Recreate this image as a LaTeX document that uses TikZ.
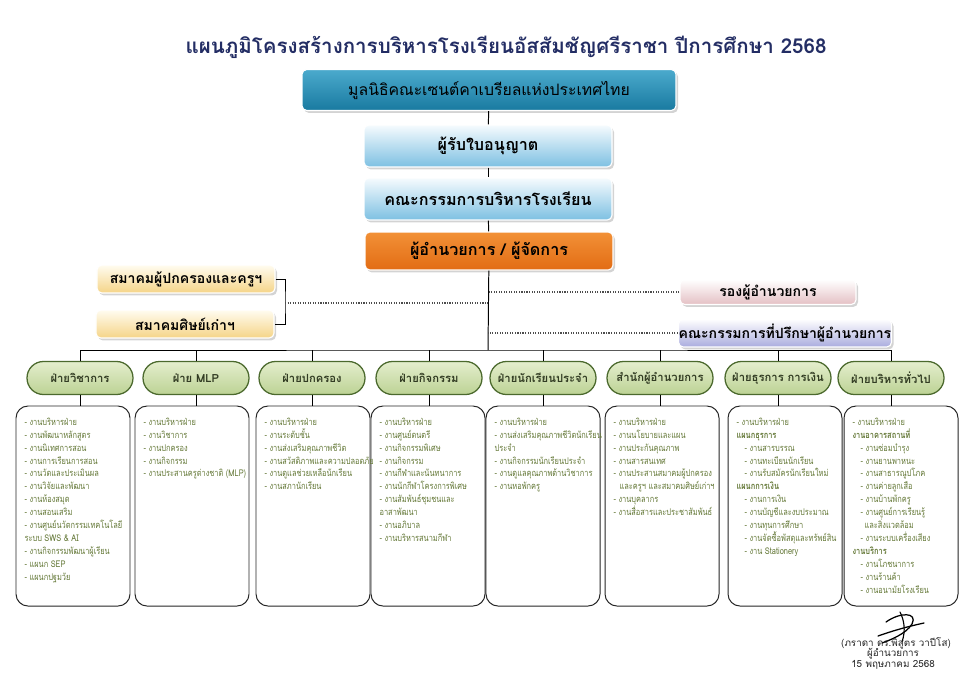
\documentclass[tikz,border=0pt]{standalone}
\usepackage{fontspec}
\setmainfont{Loma}[Script=Thai]
\newfontfamily\narrowthai{Loma}[Script=Thai, FakeStretch=0.8]
\usepackage{tikz}
\usetikzlibrary{positioning,shadows}

\definecolor{titleblue}{RGB}{35,45,100}
\definecolor{tealtop}{RGB}{75,170,205}
\definecolor{tealbot}{RGB}{25,122,160}
\definecolor{skytop}{RGB}{246,251,254}
\definecolor{skybot}{RGB}{125,192,226}
\definecolor{orangetop}{RGB}{242,145,55}
\definecolor{orangebot}{RGB}{226,108,20}
\definecolor{creamtop}{RGB}{255,252,240}
\definecolor{creambot}{RGB}{245,212,135}
\definecolor{pinkbot}{RGB}{228,192,196}
\definecolor{lilacbot}{RGB}{170,172,222}
\definecolor{pilltop}{RGB}{228,238,205}
\definecolor{pillbot}{RGB}{188,210,148}
\definecolor{pilledge}{RGB}{75,105,45}
\definecolor{pilltext}{RGB}{50,60,35}
\definecolor{listgreen}{RGB}{100,120,55}

\tikzset{
  topbox/.style={rectangle, rounded corners=1.2mm, draw=white, line width=0.8pt,
    drop shadow={shadow xshift=0.5mm, shadow yshift=-0.6mm, opacity=0.35},
    inner sep=0pt, font=\bfseries\fontsize{11.5}{13}\selectfont},
  sidebox/.style={topbox, font=\bfseries\fontsize{10}{12}\selectfont},
  pill/.style={rectangle, rounded corners=4.1mm, draw=pilledge, line width=0.9pt,
    top color=pilltop, bottom color=pillbot, minimum width=26.5mm,
    minimum height=8.25mm, inner sep=0pt, text=pilltext,
    font=\bfseries\fontsize{8}{10}\selectfont},
  dutybox/.style={rectangle, rounded corners=3mm, draw=black!85, line width=0.7pt,
    fill=white, minimum width=28.5mm, minimum height=50mm},
  dutylist/.style={align=left, inner sep=0pt, anchor=north west, text=listgreen,
    font=\narrowthai\fontsize{6.6}{9.2}\selectfont},
  dotline/.style={densely dotted, line width=0.8pt, draw=black!70},
  sigtext/.style={inner sep=0pt, text=black!85, font=\fontsize{7}{8}\selectfont}
}

\begin{document}
\begin{tikzpicture}[x=0.25mm, y=-0.25mm]
\useasboundingbox (0,0) rectangle (980,694);

\node[text=titleblue, font=\bfseries\fontsize{14.6}{18}\selectfont] (title) at (506,47)
  {แผนภูมิโครงสร้างการบริหารโรงเรียนอัสสัมชัญศรีราชา ปีการศึกษา 2568};

% top of the chart
\node[topbox, top color=tealtop, bottom color=tealbot, minimum width=93.5mm,
  minimum height=10.25mm, font=\fontsize{11.2}{13}\selectfont] (found) at (489,90)
  {มูลนิธิคณะเซนต์คาเบรียลแห่งประเทศไทย};
\node[topbox, top color=skytop, bottom color=skybot, minimum width=62mm,
  minimum height=10.5mm] (lic) at (488,146) {ผู้รับใบอนุญาต};
\node[topbox, top color=skytop, bottom color=skybot, minimum width=62mm,
  minimum height=10.5mm] (board) at (488,199) {คณะกรรมการบริหารโรงเรียน};
\node[topbox, top color=orangetop, bottom color=orangebot, minimum width=62mm,
  minimum height=9.5mm] (dir) at (489,251) {ผู้อำนวยการ / ผู้จัดการ};

\begin{scope}[every node/.style={sidebox, minimum height=7mm}]
  \node[top color=creamtop, bottom color=creambot, minimum width=44.5mm] (par) at (186,279) {สมาคมผู้ปกครองและครูฯ};
  \node[top color=creamtop, bottom color=creambot, minimum width=44.5mm] (alu) at (185,324) {สมาคมศิษย์เก่าฯ};
  \node[top color=white, bottom color=pinkbot, minimum width=44mm, minimum height=6.25mm] (dep) at (768,292) {รองผู้อำนวยการ};
  \node[top color=white, bottom color=lilacbot, minimum width=53.25mm] (adv) at (785,333) {คณะกรรมการที่ปรึกษาผู้อำนวยการ};
\end{scope}

% departments
\node[pill] (h1) at (80,378) {ฝ่ายวิชาการ};
\node[pill] (h2) at (196,378) {ฝ่าย MLP};
\node[pill] (h3) at (312,378) {ฝ่ายปกครอง};
\node[pill] (h4) at (429,378) {ฝ่ายกิจกรรม};
\node[pill] (h5) at (543,378) {ฝ่ายนักเรียนประจำ};
\node[pill] (h6) at (660,378) {สำนักผู้อำนวยการ};
\node[pill] (h7) at (778,378) {ฝ่ายธุรการ การเงิน};
\node[pill] (h8) at (891,378) {ฝ่ายบริหารทั่วไป};

\node[dutybox] (d1) at (73,506) {};
\node[dutybox] (d2) at (192,506) {};
\node[dutybox] (d3) at (313,506) {};
\node[dutybox] (d4) at (428,506) {};
\node[dutybox] (d5) at (543,506) {};
\node[dutybox] (d6) at (662,506) {};
\node[dutybox] (d7) at (785,506) {};
\node[dutybox] (d8) at (901,506) {};

\node[dutylist, below right=3mm and 2.2mm of d1.north west] (l1)
  {- งานบริหารฝ่าย\\- งานพัฒนาหลักสูตร\\- งานนิเทศการสอน\\- งานการเรียนการสอน\\
   - งานวัดและประเมินผล\\- งานวิจัยและพัฒนา\\- งานห้องสมุด\\- งานสอนเสริม\\
   - งานศูนย์นวัตกรรมเทคโนโลยี\\ระบบ SWS \& AI\\- งานกิจกรรมพัฒนาผู้เรียน\\
   - แผนก SEP\\- แผนกปฐมวัย};
\node[dutylist, below right=3mm and 2.2mm of d2.north west] (l2)
  {- งานบริหารฝ่าย\\- งานวิชาการ\\- งานปกครอง\\- งานกิจกรรม\\- งานประสานครูต่างชาติ (MLP)};
\node[dutylist, below right=3mm and 2.2mm of d3.north west] (l3)
  {- งานบริหารฝ่าย\\- งานระดับชั้น\\- งานส่งเสริมคุณภาพชีวิต\\- งานสวัสดิภาพและความปลอดภัย\\
   - งานดูแลช่วยเหลือนักเรียน\\- งานสภานักเรียน};
\node[dutylist, below right=3mm and 2.2mm of d4.north west] (l4)
  {- งานบริหารฝ่าย\\- งานศูนย์ดนตรี\\- งานกิจกรรมพิเศษ\\- งานกิจกรรม\\- งานกีฬาและนันทนาการ\\
   - งานนักกีฬาโครงการพิเศษ\\- งานสัมพันธ์ชุมชนและ\\อาสาพัฒนา\\- งานอภิบาล\\- งานบริหารสนามกีฬา};
\node[dutylist, below right=3mm and 2.2mm of d5.north west] (l5)
  {- งานบริหารฝ่าย\\- งานส่งเสริมคุณภาพชีวิตนักเรียน\\ประจำ\\- งานกิจกรรมนักเรียนประจำ\\
   - งานดูแลคุณภาพด้านวิชาการ\\- งานหอพักครู};
\node[dutylist, below right=3mm and 2.2mm of d6.north west] (l6)
  {- งานบริหารฝ่าย\\- งานนโยบายและแผน\\- งานประกันคุณภาพ\\- งานสารสนเทศ\\
   - งานประสานสมาคมผู้ปกครอง\\\hspace*{1.5mm}และครูฯ และสมาคมศิษย์เก่าฯ\\- งานบุคลากร\\
   - งานสื่อสารและประชาสัมพันธ์};
\node[dutylist, below right=3mm and 2.2mm of d7.north west] (l7)
  {- งานบริหารฝ่าย\\\textbf{แผนกธุรการ}\\\hspace*{2mm}- งานสารบรรณ\\\hspace*{2mm}- งานทะเบียนนักเรียน\\
   \hspace*{2mm}- งานรับสมัครนักเรียนใหม่\\\textbf{แผนกการเงิน}\\\hspace*{2mm}- งานการเงิน\\
   \hspace*{2mm}- งานบัญชีและงบประมาณ\\\hspace*{2mm}- งานทุนการศึกษา\\
   \hspace*{2mm}- งานจัดซื้อพัสดุและทรัพย์สิน\\\hspace*{2mm}- งาน Stationery};
\node[dutylist, below right=3mm and 2.2mm of d8.north west] (l8)
  {- งานบริหารฝ่าย\\\textbf{งานอาคารสถานที่}\\\hspace*{2mm}- งานซ่อมบำรุง\\\hspace*{2mm}- งานยานพาหนะ\\
   \hspace*{2mm}- งานสาธารณูปโภค\\\hspace*{2mm}- งานค่ายลูกเสือ\\\hspace*{2mm}- งานบ้านพักครู\\
   \hspace*{2mm}- งานศูนย์การเรียนรู้\\\hspace*{3mm}และสิ่งแวดล้อม\\\hspace*{2mm}- งานระบบเครื่องเสียง\\
   \textbf{งานบริการ}\\\hspace*{2mm}- งานโภชนาการ\\\hspace*{2mm}- งานร้านค้า\\\hspace*{2mm}- งานอนามัยโรงเรียน};

% connectors
\coordinate (bus) at (488,350);
\coordinate (brk) at (285,303);
\begin{scope}[line width=0.7pt]
  \draw (found) -- (lic);
  \draw (lic) -- (board);
  \draw (board) -- (dir);
  \draw (dir) -- (bus);
  \draw (h1.north) |- (bus) -| (h8.north);
  \draw (h2.north) -- (h2.north |- bus);
  \draw (h3.north) -- (h3.north |- bus);
  \draw (h4.north) -- (h4.north |- bus);
  \draw (h5.north) -- (h5.north |- bus);
  \draw (h6.north) -- (h6.north |- bus);
  \draw (h7.north) -- (h7.north |- bus);
  \draw (h1) -- (h1 |- d1.north);
  \draw (h2) -- (h2 |- d2.north);
  \draw (h3) -- (h3 |- d3.north);
  \draw (h4) -- (h4 |- d4.north);
  \draw (h5) -- (h5 |- d5.north);
  \draw (h6) -- (h6 |- d6.north);
  \draw (h7) -- (h7 |- d7.north);
  \draw (h8) -- (h8 |- d8.north);
  \draw (par.east) -| (brk) |- (alu.east);
\end{scope}
\draw[dotline] (brk) -- (brk -| bus);
\draw[dotline] (dep.west) -- (dep.west -| bus);
\draw[dotline] (adv.west) -- (adv.west -| bus);

% signature
\draw[line width=0.9pt, line cap=round] (886,622) .. controls (900,612) and (918,612) .. (912,624)
  .. controls (906,634) and (890,640) .. (882,643);
\draw[line width=0.9pt, line cap=round] (878,636) .. controls (895,630) and (910,626) .. (924,623);
\draw[line width=0.8pt, line cap=round] (900,612) .. controls (904,620) and (906,630) .. (902,642);
\node[sigtext] (signame) at (896,643) {(ภราดา ดร.พิสูตร วาปีโส)};
\node[sigtext] (sigpos) at (893,654) {ผู้อำนวยการ};
\node[sigtext] (sigdate) at (893,665) {15 พฤษภาคม 2568};
\end{tikzpicture}
\end{document}
